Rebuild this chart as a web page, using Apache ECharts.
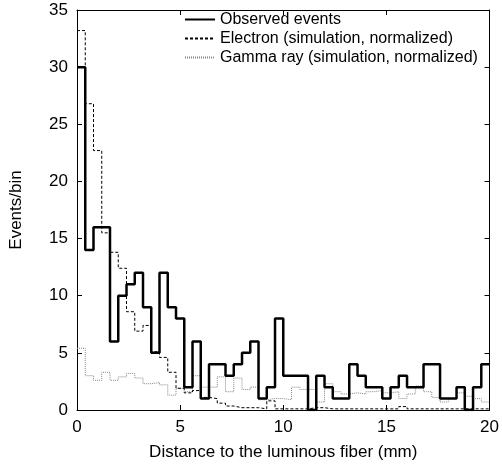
<!DOCTYPE html>
<html>
<head>
<meta charset="utf-8">
<script src="https://cdn.jsdelivr.net/npm/echarts@6/dist/echarts.min.js"></script>
<style>
  html, body { margin: 0; padding: 0; background: #fff; }
  #main { width: 502px; height: 470px; }
</style>
</head>
<body>
<div id="main"></div>
<script>
// histogram bins: 0.4 mm wide, 0 .. 20 mm
var binWidth = 0.4;
var xTicks = [0, 5, 10, 15, 20];
var yTicks = [0, 5, 10, 15, 20, 25, 30, 35];

var observed = [30, 14, 16, 16, 6, 10, 11, 12, 9, 5,
                12, 9, 8, 2, 6, 1, 4, 4, 3, 4,
                5, 6, 1, 2, 8, 3, 3, 3, 0, 3,
                2, 1, 1, 4, 3, 2, 2, 1, 2, 3,
                2, 2, 4, 4, 1, 1, 2, 0, 2, 4];

var electron = [33.2, 26.8, 22.7, 15.5, 13.8, 12.4, 8.6, 6.9, 7.4, 5.1,
                4.6, 3.3, 1.9, 1.5, 1.7, 1.1, 1.0, 0.6, 0.35, 0.2,
                0.2, 0.2, 0.1, 0.8, 0.1, 0.1, 0.1, 0.1, 0.2, 0.2,
                0.1, 0.1, 0.1, 0.1, 0.1, 0.1, 0.1, 0.1, 0.1, 0.3,
                0.1, 0.1, 0.1, 0.1, 0.1, 0.1, 0.1, 0.1, 0.1, 0.1];

var gamma = [5.4, 3.0, 2.6, 3.3, 2.6, 2.9, 3.2, 2.8, 2.3, 2.4,
             2.2, 1.3, 1.9, 1.6, 3.0, 2.0, 2.0, 2.9, 1.6, 2.8,
             1.8, 2.0, 0.9, 1.0, 1.0, 0.9, 2.0, 1.8, 1.8, 0.7,
             2.3, 1.6, 1.4, 1.5, 1.4, 1.6, 1.7, 1.5, 1.6, 1.0,
             1.4, 2.1, 1.6, 1.1, 0.7, 1.0, 1.5, 1.2, 1.0, 0.7];

var names = ['Observed events', 'Electron (simulation, normalized)', 'Gamma ray (simulation, normalized)'];

// step points: left edge of each bin, plus closing right edge
function steps(vals) {
  var pts = vals.map(function (v, i) { return [+(i * binWidth).toFixed(2), v]; });
  pts.push([+(vals.length * binWidth).toFixed(2), vals[vals.length - 1]]);
  return pts;
}

var font = 'Liberation Sans, Arial, sans-serif';
var fs = 17;
var axisCommon = {
  min: 0,
  interval: 5,
  axisLine: { show: true, onZero: false, lineStyle: { color: '#000', width: 1 } },
  axisTick: { show: true, inside: true, length: 5, lineStyle: { color: '#000' } },
  splitLine: { show: false }
};

var option = {
  animation: false,
  backgroundColor: '#fff',
  textStyle: { fontFamily: font },
  grid: { left: 77, right: 12, top: 10, bottom: 60 },
  legend: {
    data: names,
    orient: 'vertical',
    left: 179,
    top: 6,
    itemWidth: 30,
    itemHeight: 14,
    itemGap: 2,
    itemStyle: { opacity: 0, borderWidth: 0 },
    textStyle: { fontSize: 16, lineHeight: 17, color: '#000', fontFamily: font }
  },
  xAxis: [
    Object.assign({}, axisCommon, {
      type: 'value', max: 20, position: 'bottom',
      name: 'Distance to the luminous fiber (mm)',
      nameLocation: 'middle', nameGap: 34,
      nameTextStyle: { fontSize: fs, color: '#000' },
      axisLabel: { fontSize: fs, color: '#000', margin: 9,
        formatter: function (v) { return xTicks.indexOf(v) >= 0 ? v : ''; } }
    }),
    Object.assign({}, axisCommon, {
      type: 'value', max: 20, position: 'top', axisLabel: { show: false }
    })
  ],
  yAxis: [
    Object.assign({}, axisCommon, {
      type: 'value', max: 35, position: 'left',
      name: 'Events/bin', nameLocation: 'middle', nameGap: 52,
      nameTextStyle: { fontSize: fs, color: '#000' },
      axisLabel: { fontSize: fs, color: '#000', margin: 9,
        formatter: function (v) { return yTicks.indexOf(v) >= 0 ? v : ''; } }
    }),
    Object.assign({}, axisCommon, {
      type: 'value', max: 35, position: 'right', axisLabel: { show: false }
    })
  ],
  series: [
    {
      name: names[2], type: 'line', step: 'end', symbol: 'none',
      lineStyle: { color: '#888', width: 1, type: [1, 1] },
      itemStyle: { color: '#888' },
      data: steps(gamma), z: 1
    },
    {
      name: names[1], type: 'line', step: 'end', symbol: 'none',
      lineStyle: { color: '#000', width: 1, type: [3, 2] },
      itemStyle: { color: '#000' },
      data: steps(electron), z: 2
    },
    {
      name: names[0], type: 'line', step: 'end', symbol: 'none',
      lineStyle: { color: '#000', width: 2.5 },
      itemStyle: { color: '#000' },
      data: steps(observed), z: 3
    }
  ]
};

var myChart = echarts.init(document.getElementById('main'));
myChart.setOption(option);
</script>
</body>
</html>
